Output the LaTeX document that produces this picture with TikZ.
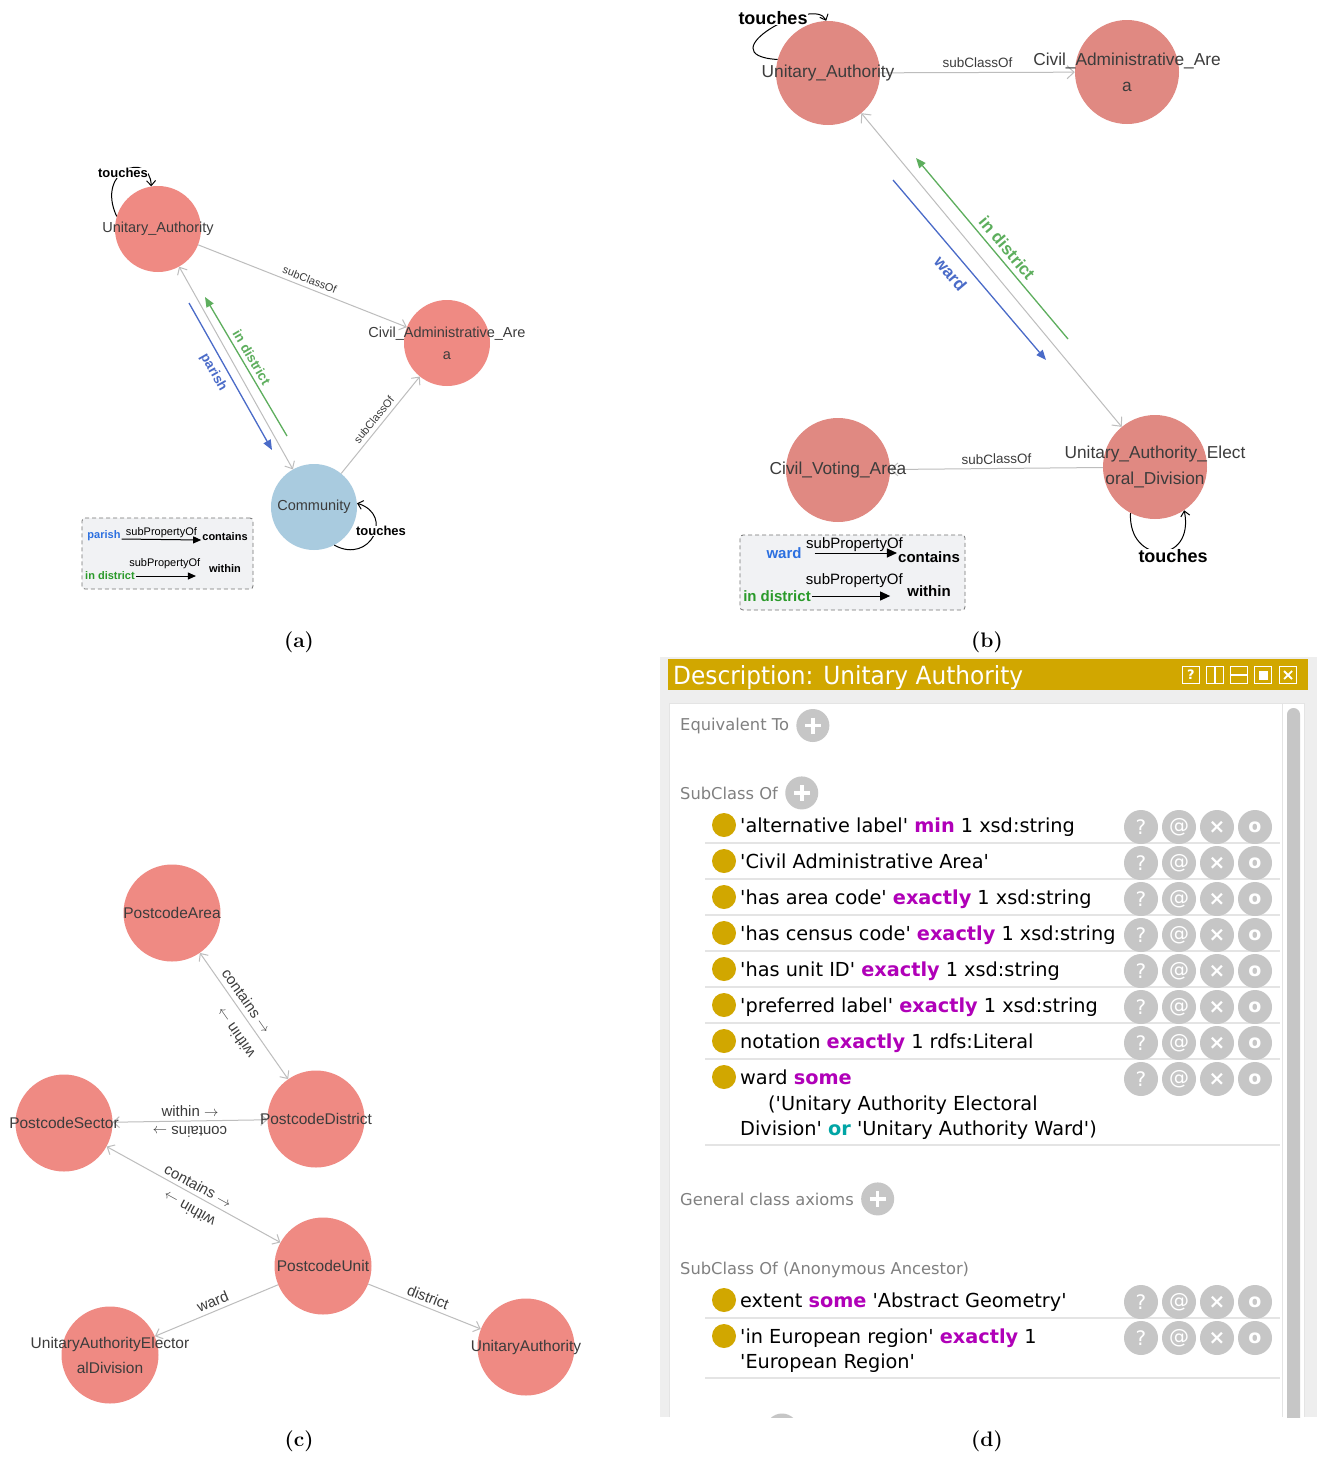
\documentclass[tikz,border=0pt]{standalone}
\usepackage{fontspec}
\usepackage{xcolor}
\usepackage{tikz}
\usetikzlibrary{arrows.meta,positioning,calc}

\newfontfamily\grf{Liberation Sans}
\newfontfamily\prf[Ligatures=TeXOff]{DejaVu Sans}
\newfontfamily\prhead[FakeStretch=0.93]{DejaVu Sans}
\newcommand{\fsz}[2]{\fontsize{#1}{#2}\selectfont}
\newcommand{\kw}[1]{\textcolor{kwmag}{\bfseries #1}}
\newcommand{\kwc}[1]{\textcolor{kwcyan}{\bfseries #1}}
\newcommand{\rar}{\(\rightarrow\)}

\definecolor{clsred}{HTML}{EF8A83}
\definecolor{clsredb}{HTML}{E08982}
\definecolor{clsblue}{HTML}{A9CBDF}
\definecolor{edgegray}{HTML}{BDBDBD}
\definecolor{txtgray}{HTML}{3C3C3C}
\definecolor{pgreen}{HTML}{5DAE5D}
\definecolor{pblue}{HTML}{4A6BC8}
\definecolor{lgblue}{HTML}{2B6FE0}
\definecolor{lggreen}{HTML}{2A9A2A}
\definecolor{legfill}{HTML}{F1F2F4}
\definecolor{gold}{HTML}{D1A700}
\definecolor{pgray}{HTML}{EEEEEE}
\definecolor{btngray}{HTML}{C6C6C6}
\definecolor{sepgray}{HTML}{E4E4E4}
\definecolor{kwmag}{HTML}{B000B8}
\definecolor{kwcyan}{HTML}{00A5A5}
\definecolor{hdgray}{HTML}{808080}

\begin{document}
\begin{tikzpicture}[x=1pt, y=-1pt,
    cls/.style={circle, fill=clsred, inner sep=0pt, minimum size=86pt},
    clsb/.style={cls, fill=clsredb, minimum size=104pt},
    clsc/.style={cls, minimum size=97pt},
    cname/.style={font=\grf\fsz{14.5}{22}, text=txtgray, align=center, inner sep=0pt},
    cnameb/.style={cname, font=\grf\fsz{17.3}{26}},
    cnamec/.style={cname, font=\grf\fsz{15.5}{25}},
    elab/.style={font=\grf\fsz{11}{13}, text=txtgray, inner sep=1pt},
    elabb/.style={elab, font=\grf\fsz{13.5}{16}},
    elabc/.style={elab, font=\grf\fsz{15}{18}},
    plab/.style={font=\grf\bfseries\fsz{13.5}{16}, inner sep=1pt},
    plabb/.style={plab, font=\grf\bfseries\fsz{17}{20}},
    tlab/.style={font=\grf\bfseries\fsz{13}{15}, fill=white, inner sep=0.5pt},
    tlabb/.style={tlab, font=\grf\bfseries\fsz{18}{21}},
    edge/.style={draw=edgegray, line width=1pt, -{Straight Barb[length=6pt,width=11pt]}},
    both/.style={edge, {Straight Barb[length=6pt,width=11pt]}-{Straight Barb[length=6pt,width=11pt]}},
    edgeb/.style={edge, -{Straight Barb[length=7pt,width=13pt]}},
    bothb/.style={edge, {Straight Barb[length=7pt,width=13pt]}-{Straight Barb[length=7pt,width=13pt]}},
    garr/.style={draw=pgreen, line width=1.3pt, {Triangle[length=10pt,width=8pt]}-},
    barr/.style={draw=pblue, line width=1.3pt, -{Triangle[length=10pt,width=8pt]}},
    loopl/.style={draw=black, line width=1pt, -{Straight Barb[length=5pt,width=9pt]}},
    legbox/.style={draw=black!55, fill=legfill, dash pattern=on 4pt off 3pt, rounded corners=3pt, line width=0.8pt, inner sep=0pt},
    leglab/.style={font=\grf\bfseries\fsz{11}{13}, inner sep=1pt},
    leglabb/.style={leglab, font=\grf\bfseries\fsz{15}{18}},
    legsub/.style={font=\grf\fsz{11}{13}, inner sep=0pt},
    legsubb/.style={legsub, font=\grf\fsz{15}{18}},
    legarr/.style={draw=black, line width=1pt, -{Triangle[length=8pt,width=7pt]}},
    legarrb/.style={legarr, -{Triangle[length=10pt,width=9pt]}},
    capt/.style={font=\bfseries\fsz{21}{25}},
    hdtxt/.style={font=\prhead\fsz{25}{30}, text=white, inner sep=0pt, anchor=base west},
    hicon/.style={draw=white, line width=1.6pt, minimum size=17pt, inner sep=0pt},
    sect/.style={font=\prf\fsz{16.3}{20}, text=hdgray, inner sep=0pt, anchor=base west},
    item/.style={font=\prf\fsz{19.3}{25}, text=black, inner sep=0pt, anchor=base west},
    bullet/.style={circle, fill=gold, minimum size=24pt, inner sep=0pt},
    actbtn/.style={circle, fill=btngray, minimum size=34pt, inner sep=0pt, text=white, font=\prf\fsz{20}{21}},
    plusbtn/.style={circle, fill=btngray, minimum size=33pt, inner sep=0pt,
        path picture={\draw[white, line width=3.5pt]
            ($(path picture bounding box.center)+(-8,0)$) -- ($(path picture bounding box.center)+(8,0)$)
            ($(path picture bounding box.center)+(0,-8)$) -- ($(path picture bounding box.center)+(0,8)$);}}
]
\fill[white] (0,0) rectangle (1319,1457);
\useasboundingbox (0,0) rectangle (1319,1457);

% (a) ontology fragment
\node[cls] (ua) at (158,229) {};
\node[cls] (caa) at (447,343) {};
\node[cls, fill=clsblue] (com) at (314,507) {};
\coordinate (ga1) at (205,297);
\coordinate (ga2) at (287,436);
\coordinate (ba1) at (189,303);
\coordinate (ba2) at (272,450);
\draw[edge] (ua) -- (caa) node[elab, pos=0.52, sloped, above=3pt] {subClassOf};
\draw[edge] (com) -- (caa) node[elab, pos=0.5, sloped, above=3pt] {subClassOf};
\draw[both] (ua) -- (com);
\draw[garr] (ga1) -- (ga2) node[plab, text=pgreen, pos=0.47, sloped, above=3pt] {in district};
\draw[barr] (ba1) -- (ba2) node[plab, text=pblue, pos=0.43, sloped, below=5pt] {parish};
\draw[loopl] (ua.163) .. controls (95,170) and (150,150) .. (ua.99);
\node[tlab] (ta1) at (123,173) {touches};
\draw[loopl] (com.-62) .. controls (370,565) and (395,515) .. (com.5);
\node[tlab] (ta2) at (381,531) {touches};
\node[cname] (ua-t) at (ua) {Unitary\_Authority};
\node[cname] (caa-t) at (caa) {Civil\_Administrative\_Are\\a};
\node[cname] (com-t) at (com) {Community};

\node[legbox, minimum width=171pt, minimum height=71pt] (lega) at (167.5,553.5) {};
\node[leglab, text=lgblue] (lpa) at (104,536) {parish};
\node[leglab] (lco) at (225,537) {contains};
\node[leglab, text=lggreen] (lin) at (110,576) {in district};
\node[leglab] (lwi) at (225,569) {within};
\draw[legarr] ([yshift=-3pt]lpa.east) -- ([yshift=-3pt]lco.west) node[legsub, midway, above=1pt] {subPropertyOf};
\draw[legarr, shorten >=12pt] (lin.east) -- (lin.east -| lwi.west) node[legsub, pos=0.4, above=7pt] {subPropertyOf};

% (b) electoral division fragment
\node[clsb] (bua) at (828,73) {};
\node[clsb] (bcaa) at (1127,72) {};
\node[clsb] (buea) at (1155,467) {};
\node[clsb] (bcva) at (838,470) {};
\coordinate (gb1) at (916,158);
\coordinate (gb2) at (1068,339);
\coordinate (bb1) at (893,180);
\coordinate (bb2) at (1046,360);
\draw[edgeb] (bua) -- (bcaa) node[elabb, midway, above=3pt] {subClassOf};
\draw[edgeb] (buea) -- (bcva) node[elabb, midway, sloped, above=3pt] {subClassOf};
\draw[bothb] (bua) -- (buea);
\draw[garr] (gb1) -- (gb2) node[plabb, text=pgreen, pos=0.54, sloped, above=4pt] {in district};
\draw[barr] (bb1) -- (bb2) node[plabb, text=pblue, pos=0.46, sloped, below=9pt] {ward};
\draw[loopl] (bua.165) .. controls (705,55) and (815,-5) .. (bua.92);
\node[tlabb] (tb1) at (773,18) {touches};
\draw[loopl] (buea.-118) .. controls (1128,565) and (1195,565) .. (buea.-56);
\node[tlabb] (tb2) at (1173,556) {touches};
\node[cnameb] (bua-t) at (bua) {Unitary\_Authority};
\node[cnameb] (bcaa-t) at (bcaa) {Civil\_Administrative\_Are\\a};
\node[cnameb] (buea-t) at (buea) {Unitary\_Authority\_Elect\\oral\_Division};
\node[cnameb] (bcva-t) at (bcva) {Civil\_Voting\_Area};

\node[legbox, minimum width=225pt, minimum height=75pt] (legb) at (852.5,572.5) {};
\node[leglabb, text=lgblue] (lbw) at (784,553) {ward};
\node[leglabb] (lbc) at (929,557) {contains};
\node[leglabb, text=lggreen] (lbi) at (777,596) {in district};
\node[leglabb] (lbt) at (929,591) {within};
\draw[legarrb, shorten <=12pt] (lbw.east) -- (lbw.east -| lbc.west) node[legsubb, pos=0.55, above=1pt] {subPropertyOf};
\draw[legarrb, shorten >=16pt] (lbi.east) -- (lbi.east -| lbt.west) node[legsubb, pos=0.45, above=8pt] {subPropertyOf};

% (c) postcode hierarchy
\node[clsc] (pa) at (172,913) {};
\node[clsc] (pd) at (316,1119) {};
\node[clsc] (ps) at (64,1123) {};
\node[clsc] (pu) at (323,1266) {};
\node[clsc] (uaed) at (110,1355) {};
\node[clsc] (cua) at (526,1347) {};
\draw[both] (pa) -- (pd) node[elabc, pos=0.43, sloped, above=4pt] {contains \rar};
\node[elabc, rotate=125] (wi1) at (235,1033) {within \rar};
\draw[both] (ps) -- (pd) node[elabc, midway, above=3pt] {within \rar};
\node[elabc, rotate=180] (co2) at (190,1132) {contains \rar};
\draw[both] (ps) -- (pu) node[elabc, pos=0.5, sloped, above=3pt] {contains \rar};
\node[elabc, rotate=151] (wi3) at (189,1209) {within \rar};
\draw[edge] (pu) -- (uaed) node[elabc, midway, sloped, above=3pt] {ward};
\draw[edge] (pu) -- (cua) node[elabc, midway, sloped, above=3pt] {district};
\node[cnamec] (pa-t) at (pa) {PostcodeArea};
\node[cnamec] (pd-t) at (pd) {PostcodeDistrict};
\node[cnamec] (ps-t) at (ps) {PostcodeSector};
\node[cnamec] (pu-t) at (pu) {PostcodeUnit};
\node[cnamec] (uaed-t) at (uaed) {UnitaryAuthorityElector\\alDivision};
\node[cnamec] (cua-t) at (cua) {UnitaryAuthority};

% (d) class description panel
\fill[pgray] (660,657) rectangle (1317,1417);
\fill[gold] (668,659) rectangle (1308,690);
\node[hdtxt] (dtitle) at (673,684) {Description: Unitary Authority};
\foreach \x [count=\k] in {1191,1215,1239,1263,1288}
    \node[hicon] (hb\k) at (\x,675) {};
\node[font=\prf\bfseries\fsz{13}{14}, text=white, inner sep=0pt] (hq) at (hb1) {?};
\draw[white, line width=1.6pt] (hb2.north) -- (hb2.south);
\draw[white, line width=1.6pt] (hb3.west) -- (hb3.east);
\fill[white] ($(hb4.center)+(-4.5,-4.5)$) rectangle ($(hb4.center)+(4.5,4.5)$);
\draw[white, line width=1.8pt] ($(hb5.center)+(-4,-4)$) -- ($(hb5.center)+(4,4)$)
    ($(hb5.center)+(-4,4)$) -- ($(hb5.center)+(4,-4)$);

\fill[white] (669,703) rectangle (1304,1417);
\draw[sepgray, line width=1pt] (669,1417) -- (669,703) -- (1304,703) -- (1304,1417);
\draw[sepgray, line width=1pt] (1282,703) -- (1282,1417);
\begin{scope}
    \clip (660,700) rectangle (1319,1417);
    \fill[btngray, rounded corners=6.5pt] (1287,708) rectangle (1300,1440);
    \node[plusbtn] (pcut) at (782,1430) {};
\end{scope}

\node[sect] (heq) at (680,730) {Equivalent To};
\node[plusbtn, right=7pt of heq] (peq) {};
\node[sect] (hsub) at (680,799) {SubClass Of};
\node[plusbtn, right=7pt of hsub] (psub) {};
\node[sect] (hgen) at (680,1205) {General class axioms};
\node[plusbtn, right=7pt of hgen] (pgen) {};
\node[sect] (hanc) at (680,1274) {SubClass Of (Anonymous Ancestor)};

\foreach \y in {843,879,...,1059,1145,1318,1378}
    \draw[sepgray, line width=1.2pt] (705,\y) -- (1280,\y);
\foreach \y [count=\k] in {825,861,...,1077,1300,1336}
    \node[bullet] (bl\k) at (724,\y) {};
\foreach \y [count=\k] in {827,863,...,1079,1302,1338} {
    \node[actbtn] (bq\k) at (1141,\y) {?};
    \node[actbtn] (ba\k) at (1179,\y) {@};
    \node[actbtn, font=\prf\bfseries\fsz{20}{21}] (bx\k) at (1217,\y) {\symbol{"00D7}};
    \node[actbtn, font=\prf\bfseries\fsz{19}{20}] (bo\k) at (1255,\y) {o};
}

\node[item] (it1) at (740,832) {'alternative label' \kw{min} 1 xsd:string};
\node[item] (it2) at (740,868) {'Civil Administrative Area'};
\node[item] (it3) at (740,904) {'has area code' \kw{exactly} 1 xsd:string};
\node[item] (it4) at (740,940) {'has census code' \kw{exactly} 1 xsd:string};
\node[item] (it5) at (740,976) {'has unit ID' \kw{exactly} 1 xsd:string};
\node[item] (it6) at (740,1012) {'preferred label' \kw{exactly} 1 xsd:string};
\node[item] (it7) at (740,1048) {notation \kw{exactly} 1 rdfs:Literal};
\node[item] (it8) at (740,1084) {ward \kw{some}};
\node[item] (it8b) at (768,1110) {('Unitary Authority Electoral};
\node[item] (it8c) at (740,1135) {Division' \kwc{or} 'Unitary Authority Ward')};
\node[item] (it9) at (740,1307) {extent \kw{some} 'Abstract Geometry'};
\node[item] (it10) at (740,1343) {'in European region' \kw{exactly} 1};
\node[item] (it10b) at (740,1368) {'European Region'};

% captions
\node[capt] (capa) at (299,642) {(a)};
\node[capt] (capb) at (987,642) {(b)};
\node[capt] (capc) at (299,1441) {(c)};
\node[capt] (capd) at (987,1441) {(d)};
\end{tikzpicture}
\end{document}
